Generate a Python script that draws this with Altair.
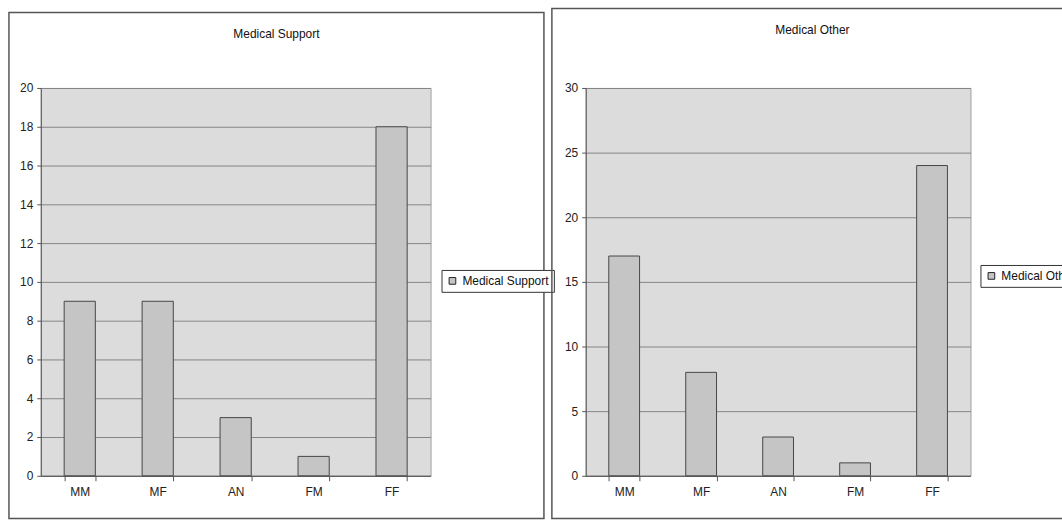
import altair as alt
import pandas as pd

# Counts per group for the two medical categories
categories = ["MM", "MF", "AN", "FM", "FF"]
support_values = [9, 9, 3, 1, 18]
other_values = [17, 8, 3, 1, 24]

FONT = "Liberation Sans Narrow, Liberation Sans, Arial, sans-serif"
PLOT_BG = "#dcdcdc"
BAR_FILL = "#c5c5c5"
BAR_EDGE = "#474747"
FRAME = "#555555"


def panel(name, values, ymax, ystep, width, legend_xy, frame_box, title_xy):
    df = pd.DataFrame({
        "group": categories,
        "count": values,
        "series": [name] * len(categories),
    })

    bars = alt.Chart(df).mark_bar(stroke=BAR_EDGE, strokeWidth=1).encode(
        x=alt.X(
            "group:N",
            sort=categories,
            scale=alt.Scale(paddingInner=0.6, paddingOuter=0.3),
            axis=alt.Axis(title=None, labelAngle=0, grid=False, tickBand="extent",
                          tickSize=5, labelPadding=6),
        ),
        y=alt.Y(
            "count:Q",
            scale=alt.Scale(domain=[0, ymax], nice=False),
            axis=alt.Axis(title=None, values=list(range(0, ymax + 1, ystep)),
                          grid=True, tickSize=4, labelPadding=4),
        ),
        color=alt.Color(
            "series:N",
            scale=alt.Scale(range=[BAR_FILL]),
            legend=alt.Legend(
                title=None, orient="none",
                legendX=legend_xy[0], legendY=legend_xy[1],
                strokeColor="#333333", fillColor="white", padding=5,
                symbolType="square", symbolSize=45,
                symbolStrokeColor="#222222", symbolStrokeWidth=1,
                labelFont=FONT, labelFontSize=12, labelColor="#111111",
            ),
        ),
    )

    box = pd.DataFrame({"k": [0]})
    # outer frame around the whole panel
    frame = alt.Chart(box).mark_rect(
        fillOpacity=0, stroke=FRAME, strokeWidth=1.5
    ).encode(
        x=alt.value(frame_box[0]), x2=alt.value(frame_box[1]),
        y=alt.value(frame_box[2]), y2=alt.value(frame_box[3]),
    )

    title = alt.Chart(box).mark_text(
        text=name, font=FONT, fontSize=12, color="#111111"
    ).encode(x=alt.value(title_xy[0]), y=alt.value(title_xy[1]))

    return alt.layer(frame, bars, title).properties(width=width, height=390)


left = panel("Medical Support", support_values, 20, 2, 392,
             (403, 183), (-32, 506, -76, 433), (237, -54))
right = panel("Medical Other", other_values, 30, 5, 387,
              (397, 178), (-34, 492, -80, 433), (228, -58))

# the right panel runs past the page edge; a negative right padding crops it
chart = alt.hconcat(left, right, spacing=156, bounds="flush").resolve_scale(
    color="independent", x="independent", y="independent"
).properties(
    padding={"left": 7, "top": 5, "right": -20, "bottom": 0},
    background="white",
).configure_view(
    fill=PLOT_BG, stroke="#a0a0a0", strokeWidth=1
).configure_axis(
    labelFont=FONT, labelFontSize=12, labelColor="#222222",
    domainColor="#555555", tickColor="#555555",
    gridColor="#858585", gridWidth=1,
)

chart.save("out.html", embed_options={"renderer": "svg", "actions": False})
